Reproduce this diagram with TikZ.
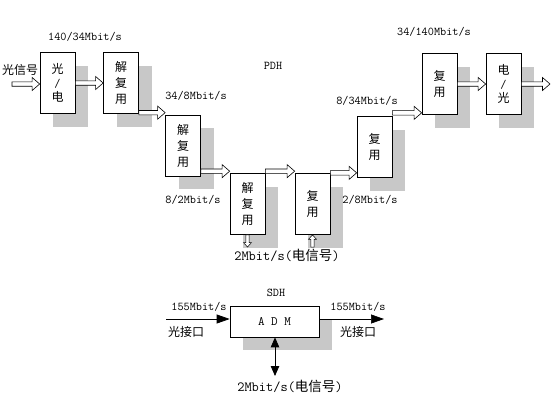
\documentclass[tikz,border=0pt]{standalone}
\usepackage{fontspec}
\newfontfamily\cjk{Noto Sans CJK SC}
\usetikzlibrary{arrows.meta,shadows,calc}
\definecolor{shgray}{RGB}{200,200,200}
\begin{document}
\begin{tikzpicture}[x=1pt,y=-1pt,
  blk/.style={draw, fill=white, line width=0.7pt, minimum width=35pt, minimum height=61pt,
    inner sep=0pt, align=center, font=\cjk\fontsize{12}{16}\selectfont,
    general shadow={fill=shgray, shadow xshift=13pt, shadow yshift=-13pt}},
  admbox/.style={draw, fill=white, line width=0.7pt, minimum width=89pt, minimum height=31pt,
    inner sep=0pt, font=\ttfamily\fontsize{12.8}{14}\selectfont,
    general shadow={fill=shgray, shadow xshift=13pt, shadow yshift=-13pt}},
  lbl/.style={inner sep=0pt, font=\ttfamily\fontsize{11.9}{13}\selectfont},
  biglbl/.style={inner sep=0pt, font=\ttfamily\fontsize{14}{16}\selectfont},
  clbl/.style={inner sep=0pt, font=\cjk\fontsize{12}{14}\selectfont},
  hollow/.style={draw, fill=white, line width=0.6pt, line join=miter,
    to path={let \p1=(\tikztostart), \p2=(\tikztotarget) in
      (\x1,\y1+2.2pt) -- (\x2-7.5pt,\y1+2.2pt) -- (\x2-7.5pt,\y1+6.5pt) -- (\x2,\y1)
      -- (\x2-7.5pt,\y1-6.5pt) -- (\x2-7.5pt,\y1-2.2pt) -- (\x1,\y1-2.2pt) -- cycle}},
  hollowdown/.style={draw, fill=white, line width=0.5pt, line join=miter,
    to path={let \p1=(\tikztostart), \p2=(\tikztotarget) in
      (\x1-1.6pt,\y1) -- (\x1-1.6pt,\y2+4.5pt) -- (\x1-4pt,\y2+4.5pt) -- (\x1,\y2)
      -- (\x1+4pt,\y2+4.5pt) -- (\x1+1.6pt,\y2+4.5pt) -- (\x1+1.6pt,\y1) -- cycle}},
  hollowup/.style={draw, fill=white, line width=0.5pt, line join=miter,
    to path={let \p1=(\tikztostart), \p2=(\tikztotarget) in
      (\x1-1.6pt,\y1) -- (\x1-1.6pt,\y2-4.5pt) -- (\x1-4pt,\y2-4.5pt) -- (\x1,\y2)
      -- (\x1+4pt,\y2-4.5pt) -- (\x1+1.6pt,\y2-4.5pt) -- (\x1+1.6pt,\y1) -- cycle}},
  solid/.style={line width=0.7pt, -{Triangle[length=13pt, width=9pt]}},
  solidboth/.style={line width=0.8pt, {Triangle[length=10pt, width=8.5pt]}-{Triangle[length=10pt, width=8.5pt]}}
]
\useasboundingbox (0,0) rectangle (552,400);

% PDH boxes
\node[blk] (b1) at (57.5,83)  {光\\[-2pt]{\ttfamily /}\\[-2pt]电};
\node[blk] (b2) at (121,83)   {解\\复\\用};
\node[blk] (b3) at (183,145.5){解\\复\\用};
\node[blk] (b4) at (247.5,204){解\\复\\用};
\node[blk] (b5) at (312.5,204){复\\用};
\node[blk] (b6) at (374.5,147){复\\用};
\node[blk] (b7) at (439.5,84) {复\\用};
\node[blk] (b8) at (503.5,84) {电\\[-2pt]{\ttfamily /}\\[-2pt]光};

% free ends
\coordinate (in1) at (12,84);
\coordinate (out8) at (550,84);
\coordinate (d4) at (247.5,247);
\coordinate (u5) at (312.5,247);

% hollow arrows
\draw[hollow] (in1) to (b1.west |- in1);
\draw[hollow] (b1.east) to (b2.west);
\draw[hollow] ([yshift=2pt]b2.east |- b3.north) to ([yshift=2pt]b3.north west);
\draw[hollow] ([yshift=2pt]b3.east |- b4.north) to ([yshift=2pt]b4.north west);
\draw[hollow] ([yshift=2pt]b4.north east) to ([yshift=2pt]b5.north west);
\draw[hollow] ([yshift=5pt]b5.east |- b6.south) to ([yshift=5pt]b6.south west);
\draw[hollow] ([yshift=2pt]b6.east |- b7.south) to ([yshift=2pt]b7.south west);
\draw[hollow] (b7.east) to (b8.west);
\draw[hollow] (b8.east) to (out8);
\draw[hollowdown] (b4.south) to (d4);
\draw[hollowup] (u5) to (b5.south);

% PDH labels
\node[clbl] (tin) at (20,70) {光信号};
\node[lbl] (t1) at (85,37) {140/34Mbit/s};
\node[lbl] (t2) at (196,96) {34/8Mbit/s};
\node[lbl] (t3) at (193,200) {8/2Mbit/s};
\node[biglbl] (t4) at (287,255) {2Mbit/s({\cjk\fontsize{13.5}{16}\selectfont 电信号})};
\node[lbl] (t5) at (370,200) {2/8Mbit/s};
\node[lbl] (t6) at (367,101) {8/34Mbit/s};
\node[lbl] (t7) at (434,32) {34/140Mbit/s};
\node[lbl] (pdh) at (273,66) {PDH};

% SDH
\node[lbl] (sdh) at (276,293) {SDH};
\node[admbox] (adm) at (274.5,321.5) {A D M};
\coordinate (lin) at (166,319);
\coordinate (rout) at (384,319);
\coordinate (dn) at (275,376);
\draw[solid] (lin) -- (adm.west |- lin);
\draw[solid] (adm.east |- rout) -- (rout);
\draw[solidboth] (adm.south -| dn) -- (dn);
\node[lbl] (l1) at (199,307) {155Mbit/s};
\node[clbl] (l2) at (186,332) {光接口};
\node[lbl] (r1) at (358,307) {155Mbit/s};
\node[clbl] (r2) at (358,332) {光接口};
\node[biglbl] (bot) at (290,386) {2Mbit/s({\cjk\fontsize{13.5}{16}\selectfont 电信号})};
\end{tikzpicture}
\end{document}
